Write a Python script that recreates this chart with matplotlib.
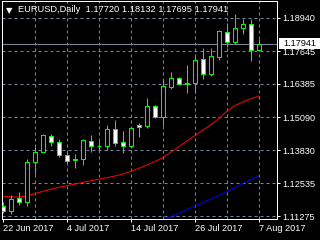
import matplotlib
matplotlib.use("Agg")
import matplotlib.pyplot as plt
import matplotlib.transforms as mtransforms
from matplotlib.patches import Rectangle
import numpy as np
import pandas as pd

# EURUSD daily candles, 22 Jun - 7 Aug 2017
dates = pd.bdate_range("2017-06-22", "2017-08-07")

opens = [1.11663, 1.11469, 1.11961, 1.11806, 1.13354, 1.13741, 1.14372, 1.14152,
         1.13625, 1.13462, 1.13501, 1.14190, 1.13985, 1.13985, 1.14632, 1.14128,
         1.13985, 1.14798, 1.14771, 1.15534, 1.15119, 1.16281, 1.16606, 1.16385,
         1.16435, 1.17353, 1.16761, 1.17442, 1.18386, 1.17999, 1.18541, 1.18696,
         1.17720]
highs = [1.11798, 1.12077, 1.12204, 1.13470, 1.13958, 1.14450, 1.14450, 1.14237,
         1.13765, 1.13675, 1.14256, 1.14411, 1.14179, 1.14798, 1.14992, 1.14566,
         1.14732, 1.14887, 1.15855, 1.15572, 1.16540, 1.16861, 1.16668, 1.17121,
         1.17469, 1.17767, 1.17790, 1.18475, 1.18735, 1.19083, 1.18901, 1.18901,
         1.18132]
lows = [1.11392, 1.11353, 1.11701, 1.11674, 1.12890, 1.13733, 1.13985, 1.13548,
        1.13288, 1.13122, 1.13250, 1.13765, 1.13803, 1.13830, 1.13985, 1.13703,
        1.13896, 1.14345, 1.14694, 1.15057, 1.14771, 1.16180, 1.16346, 1.16037,
        1.16025, 1.16579, 1.16706, 1.17314, 1.17829, 1.17922, 1.18309, 1.17275,
        1.17695]
closes = [1.11469, 1.11922, 1.11806, 1.13354, 1.13741, 1.14411, 1.14152, 1.13625,
          1.13385, 1.13482, 1.14217, 1.13973, 1.13993, 1.14632, 1.14090, 1.13985,
          1.14670, 1.14709, 1.15534, 1.15119, 1.16308, 1.16606, 1.16397, 1.16443,
          1.17314, 1.16761, 1.17481, 1.18437, 1.17999, 1.18541, 1.18696, 1.17701,
          1.17941]

ma_red = [1.12038, 1.12011, 1.12011, 1.12050, 1.12146, 1.12232, 1.12313, 1.12386,
          1.12448, 1.12514, 1.12576, 1.12642, 1.12700, 1.12758, 1.12824, 1.12901,
          1.13006, 1.13122, 1.13250, 1.13385, 1.13540, 1.13753, 1.13966, 1.14179,
          1.14392, 1.14604, 1.14817, 1.15050, 1.15340, 1.15553, 1.15688, 1.15816,
          1.15921]
ma_blue = [np.nan] * 19 + [1.10985, 1.11121, 1.11256, 1.11392, 1.11527, 1.11663,
                           1.11798, 1.11933, 1.12077, 1.12224, 1.12386, 1.12541,
                           1.12696, 1.12851]

price_ticks = [1.11275, 1.12535, 1.13830, 1.15090, 1.16385, 1.17645, 1.18940]

GREEN = "#00ff00"
GRID = "#778899"
PX = 0.72  # one pixel in points at 100 dpi

fig = plt.figure(figsize=(3.2, 2.4), dpi=100, facecolor="black")
ax = fig.add_axes([2 / 320, 21 / 240, 275 / 320, 218 / 240], facecolor="black")

x = np.arange(len(dates))
o = np.array(opens)
c = np.array(closes)

ax.vlines(x, lows, highs, color=GREEN, lw=PX, zorder=3)
body_col = np.where(c >= o, "black", "white")
ax.bar(x, np.abs(c - o), bottom=np.minimum(o, c), width=0.5,
       color=body_col, edgecolor=GREEN, linewidth=PX, zorder=4)

ax.plot(x, ma_red, color="red", lw=PX, zorder=2)
ax.plot(x, ma_blue, color="blue", lw=PX, zorder=2)

# bid line
ax.axhline(closes[-1], color=GRID, lw=PX, zorder=1)

ax.set_xlim(-0.125, 34.25)
ax.set_ylim(1.11159, 1.19598)

# grid
for gx in x[4::4]:
    ax.axvline(gx, color=GRID, lw=PX, dashes=(3, 3), zorder=0)
for gy in price_ticks:
    ax.axhline(gy, color=GRID, lw=PX, dashes=(3, 3), zorder=0)

fnt = "Liberation Sans"
ax.yaxis.tick_right()
ax.set_yticks(price_ticks)
ax.set_yticklabels([f"{v:.5f}" for v in price_ticks], fontsize=6.6, family=fnt, color="white")
xt = x[::8]
ax.set_xticks(xt)
ax.set_xticklabels([f"{d.day} {d:%b %Y}" for d in dates[::8]], fontsize=6.6,
                   family=fnt, color="white", ha="left")
ax.tick_params(axis="both", colors="white", length=2.2, width=PX, pad=2)
ax.tick_params(axis="x", pad=1.5)
for s in ax.spines.values():
    s.set_color("white")
    s.set_linewidth(PX)

# current price label
trans = mtransforms.blended_transform_factory(fig.transFigure, ax.transData)
box_h = 0.00426
fig.add_artist(Rectangle((279 / 320, closes[-1] - box_h / 2), 41 / 320, box_h,
                         transform=trans, facecolor="white", edgecolor="none", zorder=5))
fig.text(283 / 320, closes[-1], f"{closes[-1]:.5f}", transform=trans, fontsize=6.6,
         family=fnt, color="black", va="center", ha="left", zorder=6)

# title
fig.text(9.3 / 320, 1 - 11 / 240, "\u25bc", fontsize=6, color="white", ha="center", va="center")
fig.text(18 / 320, 1 - 10 / 240,
         f"EURUSD,Daily  {opens[-1]:.5f} {highs[-1]:.5f} {lows[-1]:.5f} {closes[-1]:.5f}",
         fontsize=6.7, family=fnt, color="white", va="center", ha="left")

fig.savefig("out.png", dpi=100, facecolor="black")
